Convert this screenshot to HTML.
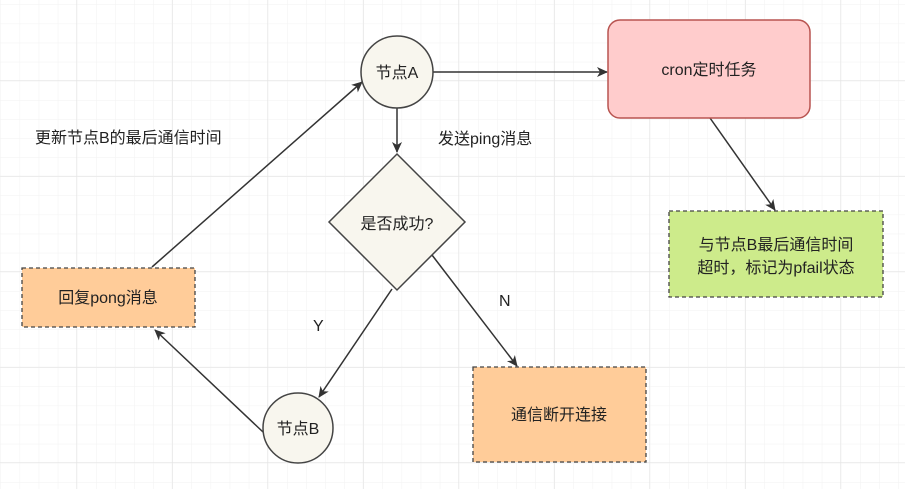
<!DOCTYPE html>
<html><head><meta charset="utf-8"><style>
html,body{margin:0;padding:0;background:#fff}
svg{display:block}
text{font-family:"Liberation Sans","Noto Sans CJK SC",sans-serif;font-size:16px;fill:#222}
</style></head><body>
<svg width="905" height="489" viewBox="0 0 905 489" xmlns="http://www.w3.org/2000/svg">
<defs>
<pattern id="minor" width="19.1" height="19.1" patternUnits="userSpaceOnUse" x="1" y="5">
<path d="M19.1 0V19.1M0 19.1H19.1" stroke="#f2f2f2" stroke-width="1" fill="none"/></pattern>
<pattern id="major" width="95.5" height="95.5" patternUnits="userSpaceOnUse" x="-18.5" y="-14.5">
<path d="M95.5 0V95.5M0 95.5H95.5" stroke="#e4e4e4" stroke-width="1.2" fill="none"/></pattern>
<marker id="ar" markerWidth="12" markerHeight="12" refX="10" refY="6" orient="auto" markerUnits="userSpaceOnUse">
<path d="M0 1 L11 6 L0 11 L3 6 Z" fill="#333"/></marker>
</defs>
<rect width="905" height="489" fill="url(#minor)"/>
<rect width="905" height="489" fill="url(#major)"/>

<g stroke="#333" stroke-width="1.5" fill="none" marker-end="url(#ar)">
<line x1="433" y1="72" x2="607" y2="72"/>
<line x1="397" y1="108" x2="397" y2="152"/>
<line x1="392" y1="289" x2="319" y2="397"/>
<line x1="432" y1="255" x2="517" y2="366"/>
<line x1="710" y1="118" x2="775" y2="210"/>
<line x1="263" y1="432" x2="155" y2="330"/>
<line x1="152" y1="267" x2="362" y2="82"/>
</g>

<circle cx="397" cy="72" r="36" fill="#f8f6ee" stroke="#444" stroke-width="1.5"/>
<text x="397" y="78" text-anchor="middle">节点A</text>

<rect x="608" y="20" width="202" height="98" rx="12" fill="#ffcccc" stroke="#b85450" stroke-width="1.5"/>
<text x="709" y="75" text-anchor="middle">cron定时任务</text>

<polygon points="397,154 465,222 397,290 329,222" fill="#f8f6ee" stroke="#444" stroke-width="1.5"/>
<text x="397" y="229" text-anchor="middle">是否成功?</text>

<circle cx="298" cy="428" r="35" fill="#f8f6ee" stroke="#444" stroke-width="1.5"/>
<text x="298" y="434" text-anchor="middle">节点B</text>

<rect x="22" y="268" width="173" height="59" fill="#ffcc99" stroke="#444" stroke-width="1.3" stroke-dasharray="4 3"/>
<text x="108" y="303" text-anchor="middle">回复pong消息</text>

<rect x="473" y="367" width="173" height="95" fill="#ffcc99" stroke="#444" stroke-width="1.3" stroke-dasharray="4 3"/>
<text x="559" y="420" text-anchor="middle">通信断开连接</text>

<rect x="669" y="211" width="214" height="86" fill="#cdeb8b" stroke="#444" stroke-width="1.3" stroke-dasharray="4 3"/>
<text x="776" y="250" text-anchor="middle">与节点B最后通信时间</text>
<text x="776" y="273" text-anchor="middle">超时，标记为pfail状态</text>

<text x="35" y="143">更新节点B的最后通信时间</text>
<text x="438" y="144">发送ping消息</text>
<text x="313" y="331">Y</text>
<text x="499" y="306">N</text>
</svg>
</body></html>
